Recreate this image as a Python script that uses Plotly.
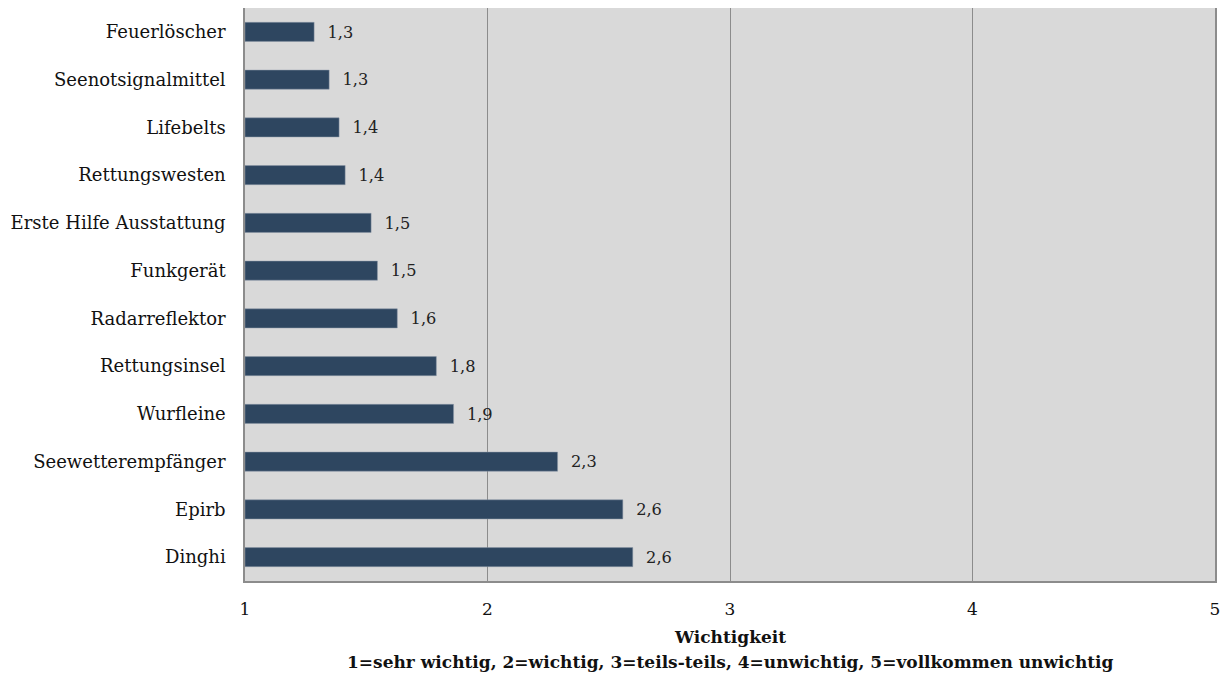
import plotly.graph_objects as go

# Ausrüstungsgegenstände (oben nach unten) und mittlere Wichtigkeit
items = ["Feuerlöscher", "Seenotsignalmittel", "Lifebelts", "Rettungswesten",
         "Erste Hilfe Ausstattung", "Funkgerät", "Radarreflektor", "Rettungsinsel",
         "Wurfleine", "Seewetterempfänger", "Epirb", "Dinghi"]
mean_importance = [1.285, 1.347, 1.388, 1.413, 1.52, 1.546, 1.628, 1.789,
                   1.86, 2.289, 2.558, 2.599]
tick_values = [1, 2, 3, 4, 5]

FONT = "DejaVu Serif"
BAR_COLOR = "#2e4660"

labels = ["\u00a0\u00a0" + f"{v:.1f}".replace(".", ",") for v in mean_importance]

fig = go.Figure(go.Bar(
    y=items,
    x=[v - 1 for v in mean_importance],
    base=1,
    orientation="h",
    marker=dict(color=BAR_COLOR, line=dict(color="#8a97a6", width=0.5)),
    width=0.4,
    text=labels,
    textposition="outside",
    textfont=dict(family=FONT, size=17, color="#222222"),
    cliponaxis=False,
    hoverinfo="skip",
))

fig.update_layout(
    width=1231, height=677,
    margin=dict(l=245, r=16, t=8, b=96),
    paper_bgcolor="white",
    plot_bgcolor="#d9d9d9",
    showlegend=False,
    font=dict(family=FONT, size=18, color="#111111"),
    xaxis=dict(
        range=[1, 5], tickvals=tick_values,
        ticktext=[str(t) for t in tick_values],
        showgrid=True, gridcolor="#8c8c8c", gridwidth=1,
        showline=True, linecolor="#8c8c8c", linewidth=1.5,
        zeroline=False, ticks="", ticklabelstandoff=12,
        tickfont=dict(family=FONT, size=17, color="#111111"),
        fixedrange=True,
    ),
    yaxis=dict(
        autorange="reversed",
        showgrid=False, zeroline=False,
        showline=True, mirror=True, linecolor="#8c8c8c", linewidth=1.5,
        ticks="", ticklabelstandoff=14,
        tickfont=dict(family=FONT, size=18, color="#111111"),
        fixedrange=True,
    ),
    annotations=[
        dict(text="<b>Wichtigkeit</b>", xref="paper", yref="paper",
             x=0.5, y=-0.098, xanchor="center", yanchor="middle",
             showarrow=False, font=dict(family=FONT, size=17, color="#111111")),
        dict(text="<b>1=sehr wichtig, 2=wichtig, 3=teils-teils, 4=unwichtig, 5=vollkommen unwichtig</b>",
             xref="paper", yref="paper",
             x=0.5, y=-0.142, xanchor="center", yanchor="middle",
             showarrow=False, font=dict(family=FONT, size=17, color="#111111")),
    ],
)

fig.write_html("out.html")
